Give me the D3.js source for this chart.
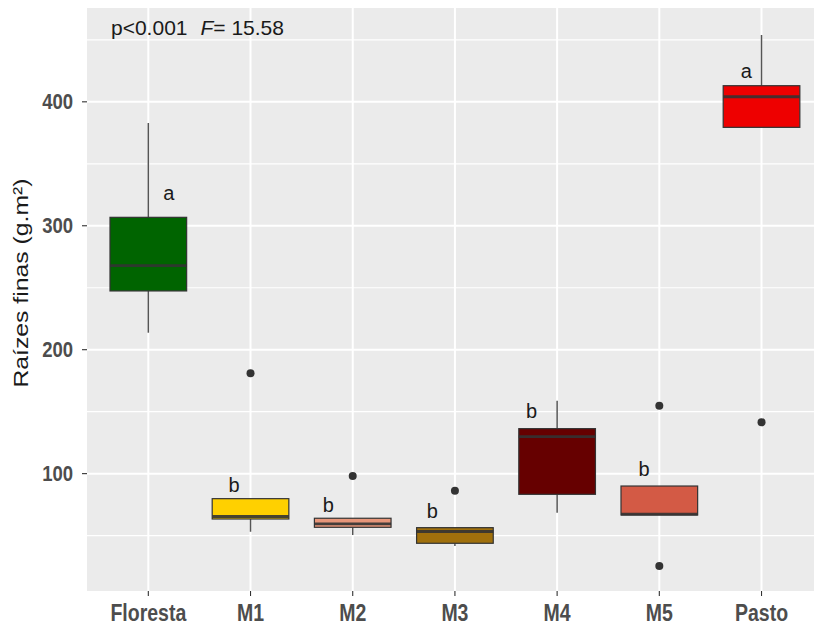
<!DOCTYPE html>
<html>
<head>
<meta charset="utf-8">
<script src="https://cdn.jsdelivr.net/npm/d3@7"></script>
<style>
  html, body { margin: 0; padding: 0; background: #fff; }
  svg { display: block; }
</style>
</head>
<body>
<svg id="chart" width="814" height="627"></svg>
<script>
// ---- data ----
const categories = ["Floresta", "M1", "M2", "M3", "M4", "M5", "Pasto"];
const whiskerLow  = [213.7, 53.1, 50.5, 41.6, 68.5, 66.6, 379.4];
const q1          = [247.4, 63.4, 56.7, 43.8, 83.3, 66.6, 379.4];
const median      = [267.8, 65.4, 59.4, 53.3, 129.8, 67.4, 404.1];
const q3          = [306.8, 79.8, 64.0, 56.4, 136.3, 90.0, 413.0];
const whiskerHigh = [382.9, 79.8, 64.0, 56.4, 158.8, 90.0, 453.9];
const outliers    = [[], [181.0], [98.1], [86.2], [], [154.8, 25.5], [141.4]];
const fills       = ["#006400", "#FFD000", "#E8967A", "#A0700C", "#660000", "#D35A45", "#EE0000"];
const letters     = ["a", "b", "b", "b", "b", "b", "a"];
const letterY     = [320.8, 85.2, 69.1, 64.2, 144.9, 98.1, 419.2];
const letterDx    = [0.2, -0.16, -0.24, -0.22, -0.25, -0.15, -0.15];
const yTicks      = [100, 200, 300, 400];
const yMinor      = [50, 150, 250, 350, 450];

// ---- layout ----
const svg = d3.select("#chart");
const panel = { left: 87, top: 8, bottom: 591, unit: 102.2 };
const x = d3.scaleLinear().domain([0.4, 7.6]).range([panel.left, panel.left + 7.2 * panel.unit]);
const y = d3.scaleLinear().domain([5.3, 475.7]).range([panel.bottom, panel.top]);
const boxW = 0.75 * panel.unit;
const xc = i => x(i + 1);

// panel background
svg.append("rect")
  .attr("x", x(0.4)).attr("y", panel.top)
  .attr("width", x(7.6) - x(0.4)).attr("height", panel.bottom - panel.top)
  .attr("fill", "#EBEBEB");

// grid
const grid = svg.append("g");
grid.selectAll(".minor").data(yMinor).join("line")
  .attr("x1", x(0.4)).attr("x2", x(7.6))
  .attr("y1", d => y(d)).attr("y2", d => y(d))
  .attr("stroke", "#fff").attr("stroke-width", 1.2);
grid.selectAll(".major").data(yTicks).join("line")
  .attr("x1", x(0.4)).attr("x2", x(7.6))
  .attr("y1", d => y(d)).attr("y2", d => y(d))
  .attr("stroke", "#fff").attr("stroke-width", 2);
grid.selectAll(".vmaj").data(categories).join("line")
  .attr("x1", (d, i) => xc(i)).attr("x2", (d, i) => xc(i))
  .attr("y1", panel.top).attr("y2", panel.bottom)
  .attr("stroke", "#fff").attr("stroke-width", 2);

// boxes
const g = svg.append("g");
categories.forEach((c, i) => {
  const cx = xc(i);
  g.append("line").attr("x1", cx).attr("x2", cx)
    .attr("y1", y(q3[i])).attr("y2", y(whiskerHigh[i]))
    .attr("stroke", "#555").attr("stroke-width", 1.5);
  g.append("line").attr("x1", cx).attr("x2", cx)
    .attr("y1", y(q1[i])).attr("y2", y(whiskerLow[i]))
    .attr("stroke", "#555").attr("stroke-width", 1.5);
  g.append("rect")
    .attr("x", cx - boxW / 2).attr("y", y(q3[i]))
    .attr("width", boxW).attr("height", y(q1[i]) - y(q3[i]))
    .attr("fill", fills[i]).attr("stroke", "#333").attr("stroke-width", 1.2);
  g.append("line")
    .attr("x1", cx - boxW / 2).attr("x2", cx + boxW / 2)
    .attr("y1", y(median[i])).attr("y2", y(median[i]))
    .attr("stroke", "#333").attr("stroke-opacity", 0.9).attr("stroke-width", 2.8);
  outliers[i].forEach(v => {
    g.append("circle").attr("cx", cx).attr("cy", y(v)).attr("r", 4)
      .attr("fill", "#333");
  });
  g.append("text")
    .attr("x", x(i + 1 + letterDx[i])).attr("y", y(letterY[i]))
    .attr("text-anchor", "middle")
    .attr("font-family", "Liberation Sans, Arial, sans-serif")
    .attr("font-size", 20).attr("fill", "#1a1a1a")
    .text(letters[i]);
});

// y axis
const yAxis = svg.append("g");
yTicks.forEach(t => {
  yAxis.append("line").attr("x1", panel.left - 5).attr("x2", panel.left)
    .attr("y1", y(t)).attr("y2", y(t)).attr("stroke", "#333").attr("stroke-width", 1.1);
  yAxis.append("text")
    .attr("transform", `translate(${panel.left - 14},${y(t) + 7}) scale(1,1.18)`)
    .attr("text-anchor", "end")
    .attr("font-family", "Liberation Sans, Arial, sans-serif")
    .attr("font-weight", "bold").attr("font-size", 18.5).attr("fill", "#4D4D4D")
    .text(t);
});

// x axis
const xAxis = svg.append("g");
categories.forEach((c, i) => {
  xAxis.append("line").attr("x1", xc(i)).attr("x2", xc(i))
    .attr("y1", panel.bottom).attr("y2", panel.bottom + 5)
    .attr("stroke", "#333").attr("stroke-width", 1.1);
  xAxis.append("text")
    .attr("transform", `translate(${xc(i)},${panel.bottom + 30}) scale(1,1.18)`)
    .attr("text-anchor", "middle")
    .attr("font-family", "Liberation Sans, Arial, sans-serif")
    .attr("font-weight", "bold").attr("font-size", 19.5).attr("fill", "#4D4D4D")
    .text(c);
});

// y title
svg.append("text")
  .attr("transform", `translate(28,${(173 + 393) / 2}) scale(1,1.18) rotate(-90)`)
  .attr("text-anchor", "middle")
  .attr("font-family", "Liberation Sans, Arial, sans-serif")
  .attr("font-size", 21).attr("fill", "#1a1a1a")
  .text("Raízes finas (g.m²)");

// annotation
const ann = svg.append("text")
  .attr("x", 111).attr("y", 35)
  .attr("font-family", "Liberation Sans, Arial, sans-serif")
  .attr("font-size", 21).attr("fill", "#1a1a1a");
ann.append("tspan").text("p<0.001");
ann.append("tspan").attr("dx", 13).attr("font-style", "italic").text("F");
ann.append("tspan").text("= 15.58");
</script>
</body>
</html>
